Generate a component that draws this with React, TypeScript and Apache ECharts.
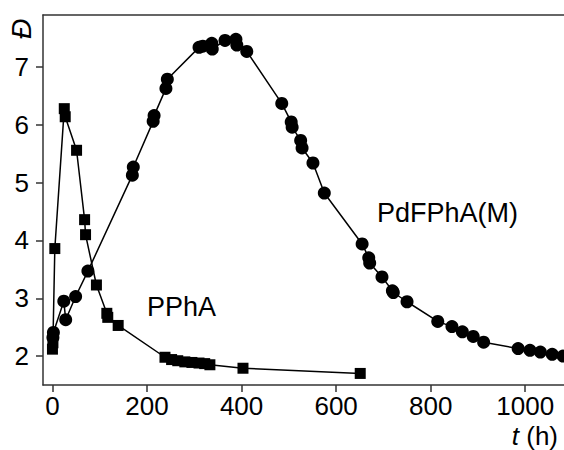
import React, { useEffect, useRef } from "react";
import * as echarts from "echarts";

// PPhA (squares)
const tPPhA = [0, 1, 5, 25, 27, 51, 68, 70, 93, 115, 117, 139, 238, 252, 265, 280, 295, 310, 322, 333, 403, 651];
const dPPhA = [2.12, 2.23, 3.86, 6.28, 6.14, 5.56, 4.36, 4.1, 3.23, 2.74, 2.67, 2.53, 1.98, 1.94, 1.92, 1.9, 1.89, 1.88, 1.87, 1.85, 1.79, 1.7];

// PdFPhA(M) (circles)
const tPdF = [1, 2, 24, 28, 49, 75, 169, 171, 213, 215, 240, 243, 310, 318, 337, 338, 365, 388, 390, 411, 485, 505, 507, 525, 528, 551, 575, 655, 669, 671, 697, 719, 721, 750, 815, 845, 867, 890, 912, 985, 1010, 1032, 1057, 1080];
const dPdF = [2.32, 2.41, 2.95, 2.63, 3.03, 3.47, 5.13, 5.27, 6.06, 6.16, 6.63, 6.79, 7.34, 7.36, 7.41, 7.31, 7.46, 7.48, 7.38, 7.27, 6.37, 6.05, 5.96, 5.73, 5.6, 5.34, 4.82, 3.94, 3.7, 3.61, 3.37, 3.13, 3.1, 2.94, 2.6, 2.51, 2.42, 2.34, 2.24, 2.13, 2.1, 2.07, 2.03, 2.0];

const xTicks = [0, 200, 400, 600, 800, 1000];
const yTicks = [2, 3, 4, 5, 6, 7];

const FONT = "'Liberation Sans', Arial, sans-serif";
const AXIS_COLOR = "#333";

export default function App() {
  const ref = useRef<HTMLDivElement>(null);
  useEffect(() => {
    if (!ref.current) return;
    const chart = echarts.init(ref.current, undefined, { renderer: "svg" });
    const line = { lineStyle: { color: AXIS_COLOR, width: 1.5 } };
    chart.setOption({
      animation: false,
      backgroundColor: "#fff",
      grid: { left: 43, right: 0, top: 15, bottom: 65 },
      xAxis: [
        {
          type: "value",
          min: -20,
          max: 1082,
          position: "bottom",
          axisLine: { show: true, onZero: false, ...line },
          axisTick: { show: true, customValues: xTicks, length: 7, ...line },
          axisLabel: {
            customValues: xTicks,
            formatter: (v: number) => String(v),
            fontSize: 26,
            fontFamily: FONT,
            color: "#000",
            margin: 8,
          },
          splitLine: { show: false },
        },
        {
          type: "value",
          min: -20,
          max: 1082,
          position: "top",
          axisLine: { show: true, onZero: false, ...line },
          axisTick: { show: false },
          axisLabel: { show: false },
          splitLine: { show: false },
        },
      ],
      yAxis: {
        type: "value",
        min: 1.5,
        max: 7.9,
        axisLine: { show: true, onZero: false, ...line },
        axisTick: { show: true, customValues: yTicks, length: 7, ...line },
        axisLabel: {
          customValues: yTicks,
          formatter: (v: number) => String(v),
          fontSize: 26,
          fontFamily: FONT,
          color: "#000",
          margin: 14,
        },
        splitLine: { show: false },
      },
      series: [
        {
          type: "line",
          name: "PPhA",
          data: tPPhA.map((t, i) => [t, dPPhA[i]]),
          symbol: "rect",
          symbolSize: 11,
          lineStyle: { color: "#000", width: 1.5 },
          itemStyle: { color: "#000" },
          clip: false,
        },
        {
          type: "line",
          name: "PdFPhA(M)",
          data: tPdF.map((t, i) => [t, dPdF[i]]),
          symbol: "circle",
          symbolSize: 13,
          lineStyle: { color: "#000", width: 1.5 },
          itemStyle: { color: "#000" },
          clip: false,
        },
      ],
      graphic: [
        {
          type: "text",
          x: 21,
          y: 29,
          rotation: Math.PI / 2,
          style: {
            text: "Đ",
            font: `italic 28px ${FONT}`,
            fill: "#000",
            align: "center",
            verticalAlign: "middle",
          },
        },
        {
          type: "text",
          x: 558,
          y: 436,
          style: {
            text: "{i|t} (h)",
            font: `26px ${FONT}`,
            fill: "#000",
            align: "right",
            verticalAlign: "middle",
            rich: {
              i: { font: `italic 26px ${FONT}`, fill: "#000" },
            },
          },
        },
        {
          type: "text",
          x: 147,
          y: 307,
          style: {
            text: "PPhA",
            font: `27px ${FONT}`,
            fill: "#000",
            align: "left",
            verticalAlign: "middle",
          },
        },
        {
          type: "text",
          x: 377,
          y: 213,
          style: {
            text: "PdFPhA(M)",
            font: `27px ${FONT}`,
            fill: "#000",
            align: "left",
            verticalAlign: "middle",
          },
        },
      ],
    });
    return () => chart.dispose();
  }, []);
  return (
    <div
      ref={ref}
      style={{ position: "fixed", left: 0, top: 0, width: 564, height: 450 }}
    />
  );
}
